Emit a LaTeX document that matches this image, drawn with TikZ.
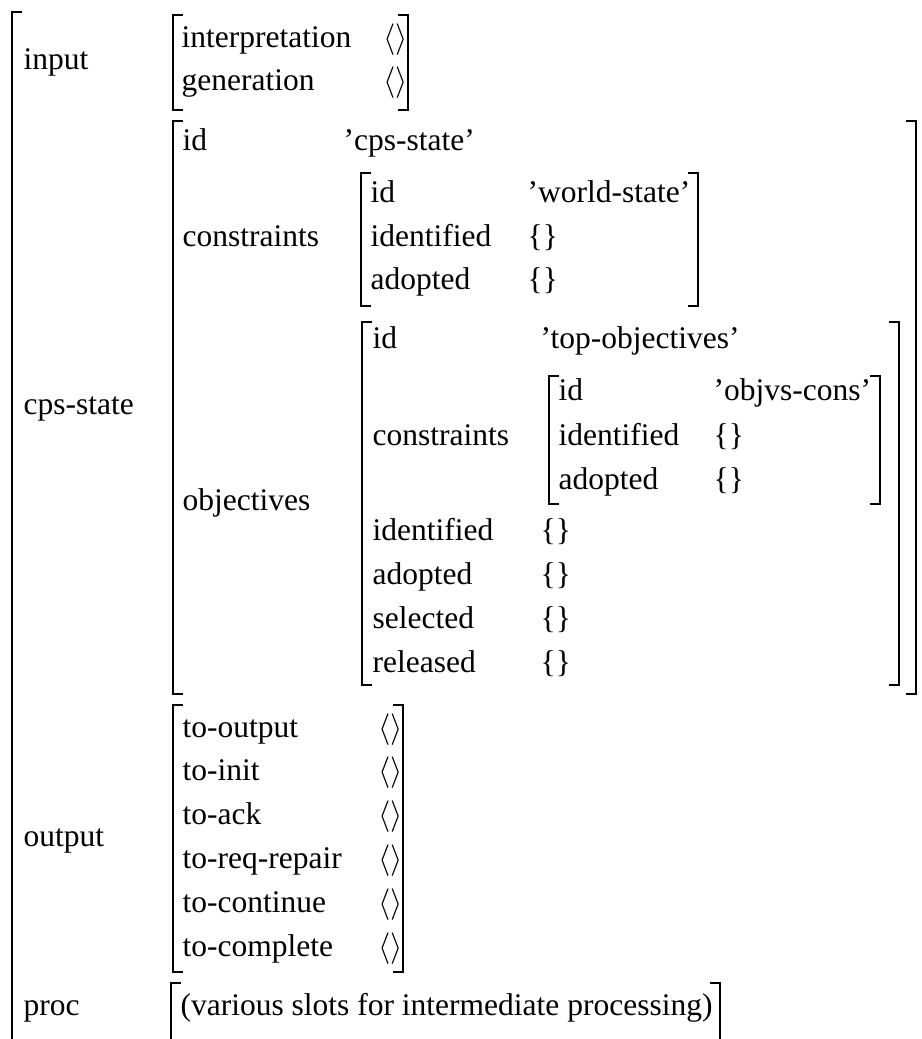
\documentclass[tikz,border=0pt]{standalone}
\usepackage{fontspec}
\setmainfont{Liberation Serif}
\newcommand\avmL[3]{\draw[brk] (#1+10,#2) -- (#1,#2) -- (#1,#3) -- (#1+10,#3);}
\newcommand\avmR[3]{\draw[brk] (#1-10,#2) -- (#1,#2) -- (#1,#3) -- (#1-10,#3);}
\begin{document}
\begin{tikzpicture}[x=0.31746pt,y=-0.31746pt,
  lbl/.style={anchor=base west, inner sep=0pt, font=\fontsize{10}{12}\selectfont},
  brk/.style={line width=0.7pt, line join=miter}]
\useasboundingbox (0,0) rectangle (922,1039);
% outer bracket (left only)
\draw[brk] (22,12) -- (12,12) -- (12,1045);
% outer labels
\node[lbl] (input) at (23,69) {input};
\node[lbl] (cps) at (23,414) {cps-state};
\node[lbl] (output) at (23,846) {output};
\node[lbl] (proc) at (23,1015) {proc};
% input matrix
\avmL{173}{15}{110}
\avmR{408}{15}{110}
\node[lbl] (interp) at (181,47) {interpretation};
\node[lbl] (interpv) at (383,47) {$\langle\rangle$};
\node[lbl] (gen) at (181,90) {generation};
\node[lbl] (genv) at (383,90) {$\langle\rangle$};
% cps-state matrix
\avmL{173}{121}{694}
\avmR{916}{121}{694}
\node[lbl] (cid) at (182,150) {id};
\node[lbl] (cidv) at (343,150) {’cps-state’};
\node[lbl] (ccons) at (182,246) {constraints};
% world-state matrix
\avmL{361}{173}{306}
\avmR{698}{173}{306}
\node[lbl] (wid) at (370,202) {id};
\node[lbl] (widv) at (527,202) {’world-state’};
\node[lbl] (wident) at (370,246) {identified};
\node[lbl] (widentv) at (527,246) {\{\}};
\node[lbl] (wadopt) at (370,289) {adopted};
\node[lbl] (wadoptv) at (527,289) {\{\}};
% objectives
\node[lbl] (cobj) at (182,510) {objectives};
\avmL{362}{322}{685}
\avmR{899}{322}{685}
\node[lbl] (oid) at (372,348) {id};
\node[lbl] (oidv) at (540,348) {’top-objectives’};
\node[lbl] (ocons) at (372,445) {constraints};
% objvs-cons matrix
\avmL{549}{376}{504}
\avmR{880}{376}{504}
\node[lbl] (vid) at (558,400) {id};
\node[lbl] (vidv) at (713,400) {’objvs-cons’};
\node[lbl] (vident) at (558,445) {identified};
\node[lbl] (videntv) at (713,445) {\{\}};
\node[lbl] (vadopt) at (558,489) {adopted};
\node[lbl] (vadoptv) at (713,489) {\{\}};
% objectives remaining rows
\node[lbl] (oident) at (372,540) {identified};
\node[lbl] (oidentv) at (540,540) {\{\}};
\node[lbl] (oadopt) at (372,584) {adopted};
\node[lbl] (oadoptv) at (540,584) {\{\}};
\node[lbl] (osel) at (372,628) {selected};
\node[lbl] (oselv) at (540,628) {\{\}};
\node[lbl] (orel) at (372,672) {released};
\node[lbl] (orelv) at (540,672) {\{\}};
% output matrix
\avmL{173}{705}{972}
\avmR{403}{705}{972}
\node[lbl] (t1) at (182,737) {to-output};
\node[lbl] (t1v) at (378,737) {$\langle\rangle$};
\node[lbl] (t2) at (182,780) {to-init};
\node[lbl] (t2v) at (378,780) {$\langle\rangle$};
\node[lbl] (t3) at (182,824) {to-ack};
\node[lbl] (t3v) at (378,824) {$\langle\rangle$};
\node[lbl] (t4) at (182,868) {to-req-repair};
\node[lbl] (t4v) at (378,868) {$\langle\rangle$};
\node[lbl] (t5) at (182,912) {to-continue};
\node[lbl] (t5v) at (378,912) {$\langle\rangle$};
\node[lbl] (t6) at (182,956) {to-complete};
\node[lbl] (t6v) at (378,956) {$\langle\rangle$};
% proc matrix
\draw[brk] (181,983) -- (171,983) -- (171,1045);
\draw[brk] (710,983) -- (720,983) -- (720,1045);
\node[lbl] (procv) at (180,1015) {(various slots for intermediate processing)};
\end{tikzpicture}
\end{document}
